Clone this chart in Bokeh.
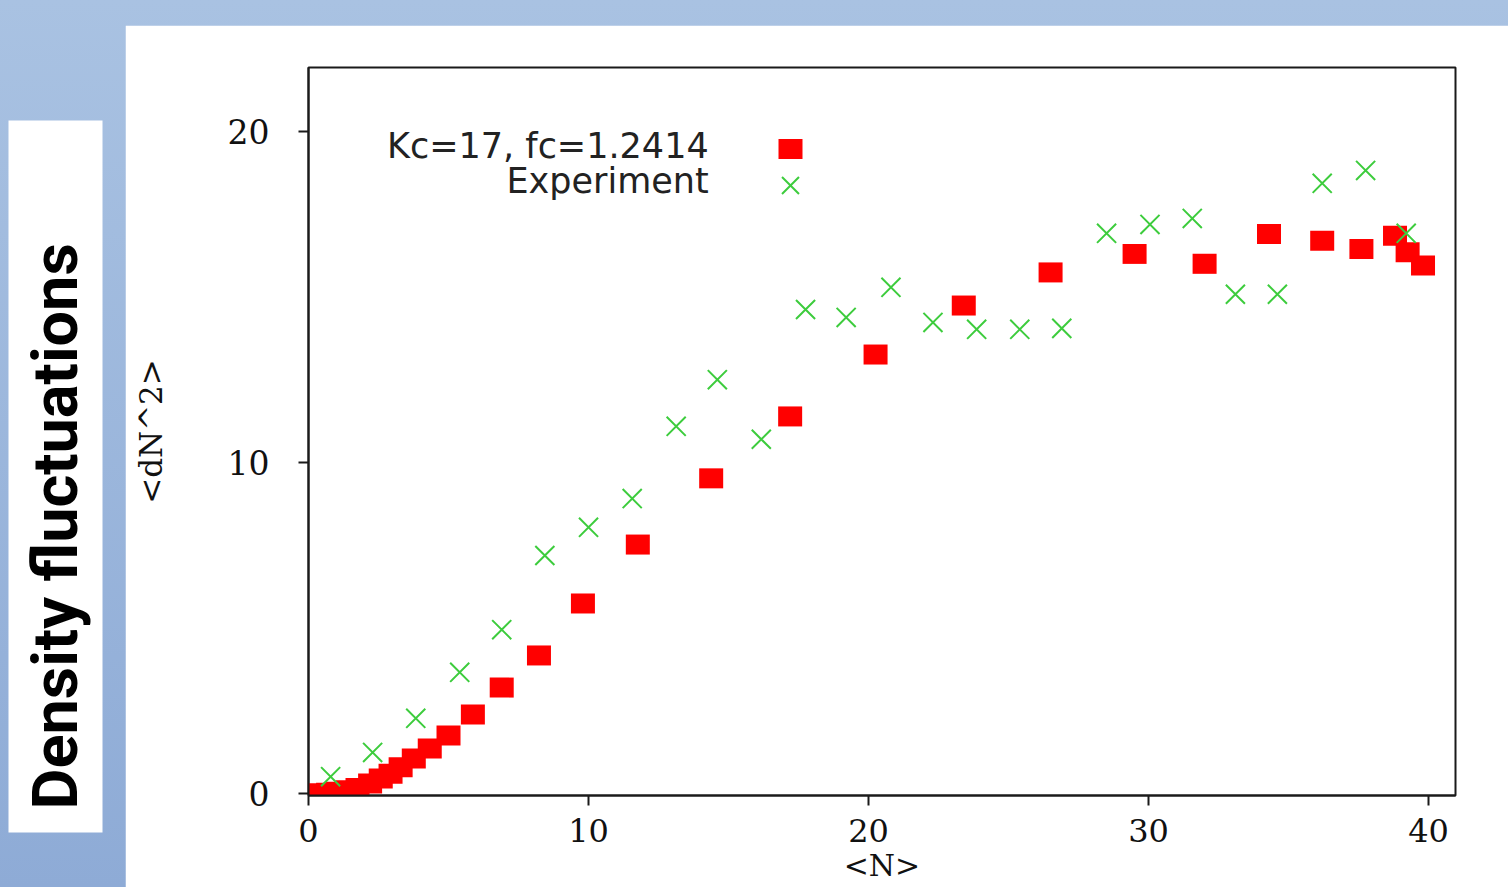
from bokeh.plotting import figure
from bokeh.models import (Range1d, Label, Legend, LegendItem, Spacer, FixedTicker)
from bokeh.layouts import row, column
from bokeh.embed import file_html
from bokeh.resources import INLINE
import math

# ---- data ----
kc_x = [0.1, 0.4, 0.7, 1.05, 1.4, 1.75, 2.2, 2.58, 2.93, 3.29, 3.76, 4.33, 5.0, 5.87,
        6.9, 8.23, 9.8, 11.76, 14.38, 17.2, 20.25, 23.4, 26.5, 29.5, 32.0, 34.3,
        36.2, 37.6, 38.8, 39.25, 39.8]
kc_y = [0.0, 0.0, 0.02, 0.05, 0.1, 0.17, 0.3, 0.45, 0.6, 0.79, 1.06, 1.36, 1.75, 2.39,
        3.2, 4.17, 5.74, 7.52, 9.52, 11.39, 13.26, 14.74, 15.74, 16.3, 16.0, 16.9,
        16.7, 16.45, 16.85, 16.35, 15.95]

exp_x = [0.79, 2.29, 3.83, 5.4, 6.9, 8.44, 10.0, 11.56, 13.13, 14.6, 16.17, 17.75,
         19.2, 20.8, 22.3, 23.86, 25.4, 26.9, 28.5, 30.05, 31.56, 33.1, 34.6, 36.2,
         37.75, 39.2]
exp_y = [0.51, 1.24, 2.27, 3.66, 4.95, 7.19, 8.04, 8.91, 11.09, 12.5, 10.7, 14.62,
         14.38, 15.29, 14.23, 14.02, 14.02, 14.05, 16.92, 17.19, 17.37, 15.08, 15.08,
         18.43, 18.82, 16.92]

x_ticks = [0, 10, 20, 30, 40]
y_ticks = [0, 10, 20]
series_labels = ["Kc=17, fc=1.2414", "Experiment"]
side_title = "Density fluctuations"
x_title = "<N>"
y_title = "<dN^2>"

# ---- main chart ----
p = figure(width=1383, height=862, output_backend="svg", toolbar_location=None,
           x_range=Range1d(0, 40.96), y_range=Range1d(-0.06, 21.93),
           min_border_left=183, min_border_right=53, min_border_top=42,
           min_border_bottom=92, border_fill_color="white",
           background_fill_color="white", outline_line_color="#1a1a1a",
           outline_line_width=2)
p.grid.visible = False

for ax in (p.xaxis[0], p.yaxis[0]):
    ax.axis_line_color = "#1a1a1a"
    ax.axis_line_width = 2
    ax.major_tick_line_color = "#1a1a1a"
    ax.major_tick_line_width = 2
    ax.major_tick_in = 0
    ax.major_tick_out = 10
    ax.minor_tick_line_color = None
    ax.major_label_text_font = "DejaVu Serif"
    ax.major_label_text_color = "#111111"
    ax.axis_label_text_font = "DejaVu Serif"
    ax.axis_label_text_font_style = "normal"
    ax.axis_label_text_color = "#111111"

p.xaxis[0].major_label_text_font_size = "32px"
p.yaxis[0].major_label_text_font_size = "33px"
p.xaxis[0].ticker = FixedTicker(ticks=x_ticks)
p.yaxis[0].ticker = FixedTicker(ticks=y_ticks)
p.xaxis[0].major_label_standoff = 13
p.yaxis[0].major_label_standoff = 29

p.xaxis[0].axis_label = x_title
p.xaxis[0].axis_label_text_font_size = "30px"
p.xaxis[0].axis_label_standoff = 3

p.yaxis[0].axis_label = y_title
p.yaxis[0].axis_label_text_font_size = "31px"
p.yaxis[0].axis_label_standoff = 56

r_kc = p.rect(kc_x, kc_y, width=24, height=20, width_units="screen",
              height_units="screen", fill_color="#ff0000", line_color=None)
r_exp = p.scatter(exp_x, exp_y, marker="x", size=27, line_color="#3dcc3d",
                  line_width=2)

legend_kc = Legend(items=[LegendItem(label=" ", renderers=[r_kc])],
                   location=(467, 634), padding=0, margin=0, spacing=0,
                   glyph_width=30, glyph_height=25, label_height=25, label_width=1,
                   label_standoff=0, label_text_font_size="10px",
                   border_line_color=None, background_fill_alpha=0)
legend_exp = Legend(items=[LegendItem(label=" ", renderers=[r_exp])],
                    location=(452, 580), padding=0, margin=0, spacing=0,
                    glyph_width=60, glyph_height=60, label_height=60, label_width=1,
                    label_standoff=0, label_text_font_size="10px",
                    border_line_color=None, background_fill_alpha=0)
p.add_layout(legend_kc)
p.add_layout(legend_exp)

p.add_layout(Label(x=14.29, y=19.55, text=series_labels[0], text_align="right",
                   text_baseline="middle", text_font="DejaVu Sans",
                   text_font_size="35px", text_color="#222222"))
p.add_layout(Label(x=14.29, y=18.49, text=series_labels[1], text_align="right",
                   text_baseline="middle", text_font="DejaVu Sans",
                   text_font_size="35px", text_color="#222222"))

# ---- left side panel with the slide title ----
side = figure(width=125, height=887, output_backend="svg", toolbar_location=None,
              x_range=Range1d(0, 1), y_range=Range1d(0, 1),
              x_axis_type=None, y_axis_type=None,
              min_border_left=8, min_border_right=23, min_border_top=120,
              min_border_bottom=55, border_fill_alpha=0,
              background_fill_color="white", outline_line_color=None)
side.grid.visible = False
side.add_layout(Label(x=0.5, y=0.43, text=side_title, angle=math.pi / 2,
                      text_align="center", text_baseline="alphabetic",
                      text_font="Roboto", text_font_style="bold",
                      text_font_size="63px", text_color="#000000"))

top_strip = Spacer(width=1383, height=25)

layout = row(side, column(top_strip, p, spacing=0), spacing=0,
             styles={"background": "linear-gradient(180deg, #a9c2e2 0%, #8eabd6 100%)"})

open("out.html", "w").write(file_html(layout, INLINE))
